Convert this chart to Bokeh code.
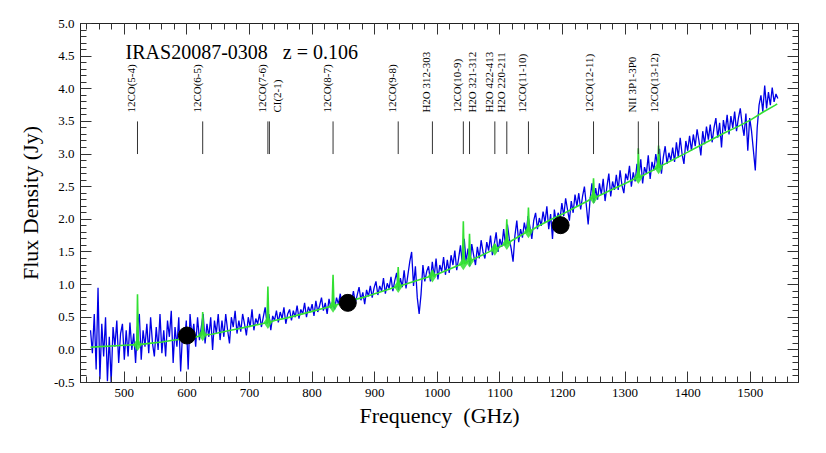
import numpy as np
from bokeh.plotting import figure
from bokeh.models import (Range1d, LinearAxis, SingleIntervalTicker, Label,
                          ColumnDataSource, NumeralTickFormatter)
from bokeh.core.properties import value
from bokeh.embed import file_html
from bokeh.resources import INLINE

# ---------------- data ----------------
source_name = "IRAS20087-0308\u00a0\u00a0\u00a0z = 0.106"
redshift = 0.106

# observed spectrum (blue), sampled every 3 GHz from 446 GHz
spec_start_ghz = 446
spec_step_ghz = 3
spec_flux = [
    0.30, -0.05, 0.55, -0.30, 0.95, -0.45, 0.40, -0.10, 0.50, -0.48,
    0.20, -0.50, 0.35, 0.05, 0.45, -0.20, 0.25, 0.40, -0.15, 0.30,
    -0.10, 0.42, 0.00, 0.25, -0.20, 0.35, 0.55, -0.15, 0.30, 0.05,
    0.40, -0.05, 0.50, 0.10, -0.10, 0.35, 0.00, 0.55, -0.05, 0.30,
    -0.10, 0.45, 0.20, 0.60, -0.20, 0.35, 0.05, 0.50, -0.33, 0.25,
    0.10, 0.45, -0.30, 0.55, 0.20, 0.40, 0.05, 0.50, 0.15, 0.35,
    0.55, 0.10, 0.40, 0.20, 0.50, 0.00, 0.45, 0.25, 0.55, 0.15,
    0.45, 0.20, 0.55, 0.30, 0.10, 0.50, 0.35, 0.60, 0.25, 0.45,
    0.28, 0.55, 0.40, 0.22, 0.50, 0.35, 0.62, 0.30, 0.48, 0.40,
    0.55, 0.35, 0.50, 0.65, 0.40, 0.55, 0.30, 0.52, 0.45, 0.60,
    0.42, 0.58, 0.48, 0.65, 0.40, 0.55, 0.62, 0.45, 0.60, 0.50,
    0.68, 0.48, 0.62, 0.55, 0.72, 0.50, 0.66, 0.58, 0.70, 0.52,
    0.75, 0.58, 0.68, 0.80, 0.60, 0.72, 0.55, 0.78, 0.64, 0.70,
    0.62, 0.80, 0.70, 0.86, 0.66, 0.78, 0.72, 0.60, 0.82, 0.74,
    0.90, 0.72, 0.84, 0.96, 0.76, 0.88, 0.70, 0.92, 0.82, 0.98,
    0.80, 0.95, 1.05, 0.84, 0.98, 0.90, 1.10, 0.86, 1.02, 0.94,
    1.12, 0.90, 1.06, 1.18, 0.92, 1.10, 0.96, 1.22, 0.94, 1.15,
    1.35, 1.50, 0.98, 1.28, 0.80, 0.55, 0.85, 1.30, 1.05, 1.20,
    1.28, 1.05, 1.35, 1.12, 1.40, 1.08, 1.30, 1.20, 1.42, 1.15,
    1.38, 1.18, 1.45, 1.30, 1.52, 1.22, 1.40, 1.60, 1.32, 1.70,
    1.35, 1.55, 1.28, 1.62, 1.45, 1.30, 1.58, 1.40, 1.68, 1.50,
    1.40, 1.65, 1.52, 1.75, 1.45, 1.62, 1.80, 1.50, 1.70, 1.58,
    1.85, 1.60, 1.92, 1.70, 1.55, 1.35, 1.75, 1.98, 1.65, 1.85,
    1.72, 1.95, 1.80, 2.05, 1.88, 1.70, 1.98, 2.10, 1.85, 2.02,
    1.90, 2.12, 1.95, 2.20, 1.85, 2.08, 1.70, 2.15, 1.95, 2.10,
    2.00, 2.25, 2.05, 2.32, 2.15, 1.98, 2.28, 2.10, 2.38, 2.20,
    2.40, 2.15, 2.35, 2.50, 2.22, 1.92, 2.30, 2.55, 2.25, 2.48,
    2.30, 2.55, 2.38, 2.62, 2.28, 2.50, 2.70, 2.35, 2.58, 2.45,
    2.68, 2.45, 2.75, 2.52, 2.40, 2.70, 2.60, 2.82, 2.50, 2.72,
    2.58, 2.85, 2.65, 2.92, 2.55, 2.80, 2.70, 2.98, 2.62, 2.88,
    2.75, 3.00, 2.82, 3.08, 2.70, 2.95, 3.12, 2.85, 3.02, 2.90,
    3.10, 2.88, 3.18, 2.95, 3.25, 3.00, 2.85, 3.20, 3.05, 3.28,
    3.05, 3.30, 3.12, 3.38, 3.20, 2.98, 3.35, 3.15, 3.42, 3.22,
    3.45, 3.18, 3.40, 3.55, 3.25, 3.48, 3.10, 3.52, 3.35, 3.60,
    3.30, 3.58, 3.40, 3.65, 3.35, 3.55, 3.70, 3.45, 3.28, 3.62,
    3.05, 3.55, 3.35, 3.05, 2.75, 3.40, 3.75, 3.90, 3.65, 4.05,
    3.70, 3.95, 3.75, 4.02, 3.80, 3.92, 3.85,
]

# fitted continuum (green)
cont_freq = [446, 460, 480, 500, 520, 540, 560, 580, 600, 620, 640, 660, 680, 700,
             720, 740, 760, 780, 800, 820, 840, 860, 880, 900, 920, 940, 960, 980,
             1000, 1020, 1040, 1060, 1080, 1100, 1120, 1140, 1160, 1180, 1200,
             1220, 1240, 1260, 1280, 1300, 1320, 1340, 1360, 1380, 1400, 1420,
             1440, 1460, 1480, 1500, 1520, 1540, 1543]
cont_flux = [0.04, 0.05, 0.06, 0.07, 0.08, 0.10, 0.12, 0.15, 0.17, 0.21, 0.24, 0.28,
             0.32, 0.36, 0.40, 0.45, 0.49, 0.54, 0.59, 0.64, 0.69, 0.75, 0.80, 0.86,
             0.92, 0.98, 1.04, 1.10, 1.16, 1.24, 1.32, 1.40, 1.49, 1.58, 1.68, 1.79,
             1.89, 1.99, 2.08, 2.18, 2.28, 2.37, 2.46, 2.55, 2.64, 2.73, 2.83, 2.93,
             3.03, 3.13, 3.23, 3.33, 3.42, 3.52, 3.64, 3.75, 3.77]

# spectral lines
line_names = ["12CO(5-4)", "12CO(6-5)", "12CO(7-6)", "CI(2-1)", "12CO(8-7)", "12CO(9-8)",
              "H2O 312-303", "12CO(10-9)", "H2O 321-312", "H2O 422-413", "H2O 220-211",
              "12CO(11-10)", "12CO(12-11)", "NII 3P1-3P0", "12CO(13-12)"]
line_rest_ghz = [576.268, 691.473, 806.652, 809.342, 921.800, 1036.912, 1097.365,
                 1151.985, 1162.912, 1207.639, 1228.789, 1267.014, 1381.995,
                 1461.132, 1496.923]
line_base = [0.08, 0.23, 0.42, 0.43, 0.67, 0.97, 1.13, 1.32, 1.36, 1.54, 1.63, 1.81,
             2.33, 2.64, 2.79]
line_peak = [0.85, 0.58, 0.97, 0.43, 1.15, 1.27, 1.22, 1.97, 1.78, 1.62, 2.00, 2.18,
             2.63, 3.09, 3.13]

# photometry (black points)
phot_freq = [600, 857, 1197]
phot_flux = [0.22, 0.72, 1.91]

# ---------------- figure ----------------
FONT = "Liberation Serif"
label_dx = [-6, -6, -6, 8, -6, -6, -6, -6, 2, -6, -6, -6, -5, -6, -5]

p = figure(width=815, height=444, output_backend="svg", toolbar_location=None,
           x_range=Range1d(430, 1577), y_range=Range1d(-0.5, 5.0),
           min_border_left=80, min_border_right=17, min_border_top=23,
           min_border_bottom=62, x_axis_type=None, y_axis_type=None)
p.outline_line_color = "#222222"
p.outline_line_width = 1
p.background_fill_color = "white"
p.border_fill_color = "white"
p.xgrid.visible = False
p.ygrid.visible = False

def style_axis(ax, show_labels):
    ax.major_tick_in = 11
    ax.major_tick_out = 0
    ax.minor_tick_in = 6
    ax.minor_tick_out = 0
    ax.major_tick_line_color = "#333333"
    ax.minor_tick_line_color = "#333333"
    ax.axis_line_color = "#222222"
    ax.major_label_text_font = FONT
    ax.major_label_text_color = "black"
    ax.axis_label_text_font = FONT
    ax.axis_label_text_font_style = "normal"
    ax.axis_label_text_color = "black"
    ax.axis_label_text_font_size = "22px"
    if show_labels:
        ax.major_label_text_font_size = "13px"
        ax.major_label_standoff = 6
    else:
        ax.major_label_text_font_size = "0px"
        ax.major_label_text_alpha = 0
        ax.major_label_standoff = 0

xt = SingleIntervalTicker(interval=100, num_minor_ticks=5)
yt = SingleIntervalTicker(interval=0.5, num_minor_ticks=5)

xb = LinearAxis(ticker=xt, axis_label="Frequency\u00a0\u00a0(GHz)")
style_axis(xb, True)
xb.axis_label_standoff = 3
p.add_layout(xb, "below")
xa = LinearAxis(ticker=xt)
style_axis(xa, False)
p.add_layout(xa, "above")

yl = LinearAxis(ticker=yt, axis_label="Flux Density (Jy)",
                formatter=NumeralTickFormatter(format="0.0"))
style_axis(yl, True)
yl.axis_label_standoff = 8
p.add_layout(yl, "left")
yr = LinearAxis(ticker=yt)
style_axis(yr, False)
p.add_layout(yr, "right")

# blue spectrum
spec_freq = spec_start_ghz + spec_step_ghz * np.arange(len(spec_flux))
p.line(spec_freq, spec_flux, line_color="#0000e6", line_width=1.3)

# green model: continuum plus line peaks
line_freq = np.array(line_rest_ghz) / (1.0 + redshift)
gx = list(cont_freq)
gy = list(cont_flux)
for f, b, pk in zip(line_freq, line_base, line_peak):
    if pk > b:
        gx += [f - 1.5, f, f + 1.5]
        gy += [b, pk, b]
order = np.argsort(gx, kind="stable")
gx = np.array(gx)[order]
gy = np.array(gy)[order]
p.line(gx, gy, line_color="#33e033", line_width=1.6)
spk = [i for i in range(len(line_freq)) if line_peak[i] > line_base[i] + 0.05]
p.scatter([line_freq[i] for i in spk], [line_base[i] for i in spk], marker="diamond",
          size=13, fill_color="#33e033", line_color=None, fill_alpha=0.85)

# photometry
p.scatter(phot_freq, phot_flux, size=17, fill_color="black", line_color="black")

# line markers and labels
p.segment(x0=line_freq, y0=[3.0] * len(line_freq), x1=line_freq, y1=[3.5] * len(line_freq),
          line_color="#333333", line_width=1)
lsrc = ColumnDataSource(dict(x=line_freq, y=[3.635] * len(line_freq), t=line_names, dx=label_dx))
p.text(x="x", y="y", text="t", source=lsrc, angle=np.pi / 2, x_offset="dx",
       text_align="left", text_baseline="middle", text_font=value(FONT),
       text_font_size="11px", text_color="black")

p.add_layout(Label(x=502, y=4.57, text=source_name, text_font=FONT,
                   text_font_size="20px", text_color="black", text_baseline="alphabetic"))

open("out.html", "w").write(file_html(p, INLINE))
